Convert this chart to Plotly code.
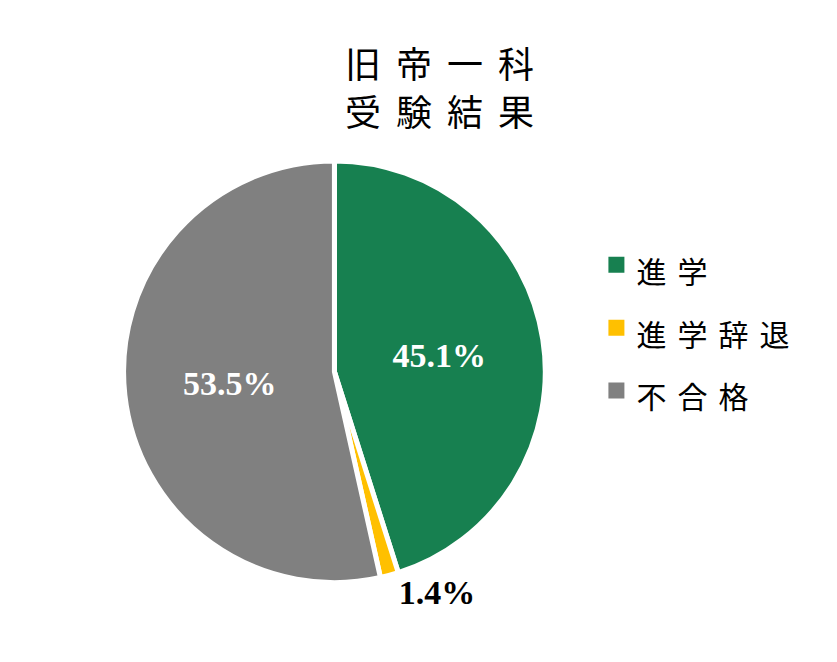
import plotly.graph_objects as go

labels = ["進学", "進学辞退", "不合格"]
values = [45.1, 1.4, 53.5]
colors = ["#178050", "#FFC000", "#808080"]
text_pos = ["inside", "outside", "inside"]
text_colors = ["white", "black", "white"]
title_lines = ["旧帝一科", "受験結果"]

fig = go.Figure()
fig.add_trace(go.Pie(
    labels=labels,
    values=values,
    sort=False,
    direction="clockwise",
    rotation=0,
    showlegend=False,
    marker=dict(colors=colors, line=dict(color="white", width=5)),
    texttemplate="%{value:.1f}%",
    textposition=text_pos,
    insidetextorientation="horizontal",
    textfont=dict(family="Liberation Serif", size=34, color=text_colors, weight="bold"),
    outsidetextfont=dict(family="Liberation Serif", size=34, color="black", weight="bold"),
    insidetextfont=dict(family="Liberation Serif", size=34, color=text_colors, weight="bold"),
    domain=dict(x=[0.138, 0.642], y=[0.132, 0.769]),
    hovertemplate="%{label}: %{value:.1f}%<extra></extra>",
))

# legend entries (one per category, square swatches)
for lab, col in zip(labels, colors):
    fig.add_trace(go.Scatter(
        x=[None], y=[None], mode="markers",
        marker=dict(symbol="square", size=20, color=col),
        name='<span style="font-size:30px;letter-spacing:11px">%s</span>' % lab,
        hoverinfo="skip",
    ))

# two-line title, one annotation per line
for i, line in enumerate(title_lines):
    fig.add_annotation(
        text='<span style="letter-spacing:15px">%s</span>' % line,
        x=0.524, y=0.918 - i * 0.072, xref="paper", yref="paper",
        xanchor="center", yanchor="middle", showarrow=False,
        font=dict(family="Noto Sans CJK JP", size=36, color="black"),
    )

fig.update_layout(
    width=837, height=662,
    margin=dict(l=0, r=0, t=0, b=0),
    paper_bgcolor="white",
    plot_bgcolor="white",
    xaxis=dict(visible=False),
    yaxis=dict(visible=False),
    legend=dict(
        x=0.703, y=0.667, xanchor="left", yanchor="top",
        font=dict(family="Noto Sans CJK JP", size=46, color="black"),
        itemsizing="trace",
    ),
)

fig.write_html("out.html")
